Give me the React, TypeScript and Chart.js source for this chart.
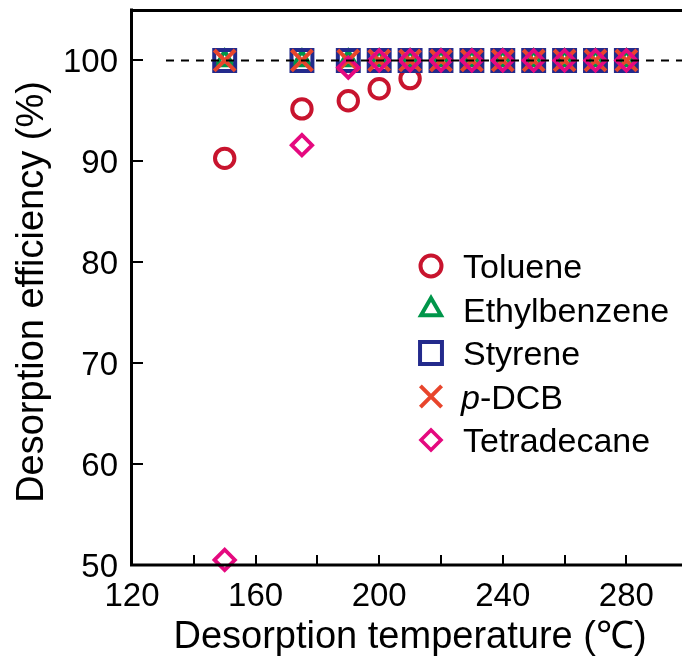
import React, { useEffect, useRef } from "react";
import { Chart, registerables } from "chart.js";
import { drawPoint } from "chart.js/helpers";

Chart.register(...registerables);

// ---- data ----
const temperatures = [150, 175, 190, 200, 210, 220, 230, 240, 250, 260, 270, 280];
const toluene = [90.3, 95.2, 96.0, 97.2, 98.2, 100, 100, 100, 100, 100, 100, 100];
const ethylbenzene = [100, 100, 100, 100, 100, 100, 100, 100, 100, 100, 100, 100];
const styrene = [100, 100, 100, 100, 100, 100, 100, 100, 100, 100, 100, 100];
const pDCB = [100, 100, 100, 100, 100, 100, 100, 100, 100, 100, 100, 100];
const tetradecane = [50.5, 91.6, 99.3, 100, 100, 100, 100, 100, 100, 100, 100, 100];

const seriesNames = ["Toluene", "Ethylbenzene", "Styrene", "p-DCB", "Tetradecane"];
const seriesValues = [toluene, ethylbenzene, styrene, pDCB, tetradecane];

const refLineX = [131, 298];
const refLineY = [100, 100];

const xMajorTicks = [120, 160, 200, 240, 280];
const xMinorTicks = [140, 180, 220, 260];
const yTicks = [50, 60, 70, 80, 90, 100];

const X_MIN = 120;
const X_MAX = 298;
const Y_MIN = 50;
const Y_MAX = 105;

// ---- styles ----
const seriesStyles = [
  { color: "#C8142E", pointStyle: "circle", radius: 9.7, borderWidth: 4, legendRadius: 10.5, legendWidth: 4 },
  { color: "#00964A", pointStyle: "triangle", radius: 9.5, borderWidth: 4, legendRadius: 11.5, legendWidth: 4 },
  { color: "#232A8C", pointStyle: "rect", radius: 14.8, borderWidth: 4, legendRadius: 15.5, legendWidth: 4 },
  { color: "#E8452C", pointStyle: "crossRot", radius: 14.8, borderWidth: 4, legendRadius: 15, legendWidth: 4 },
  { color: "#E5097F", pointStyle: "rectRot", radius: 10.2, borderWidth: 3.8, legendRadius: 10, legendWidth: 3.6 },
];
const drawOrder = [5, 4, 3, 2, 1];

const FONT = "'Liberation Sans', Arial, Helvetica, sans-serif";

const overlayPlugin = {
  id: "overlay",
  afterDraw(chart: any) {
    const ctx: CanvasRenderingContext2D = chart.ctx;
    const xs = chart.scales.x;
    const ys = chart.scales.y;
    const { left, right, top, bottom } = chart.chartArea;
    ctx.save();
    ctx.strokeStyle = "#000";
    ctx.fillStyle = "#000";
    ctx.lineCap = "butt";

    // axis frame: left, bottom, top
    ctx.lineWidth = 3;
    ctx.beginPath();
    ctx.moveTo(left - 0.5, top - 1.5);
    ctx.lineTo(left - 0.5, bottom + 1.5);
    ctx.moveTo(left - 2, bottom);
    ctx.lineTo(right, bottom);
    ctx.moveTo(left - 2, top + 0.5);
    ctx.lineTo(right, top + 0.5);
    ctx.stroke();

    // inward ticks
    ctx.lineWidth = 2;
    ctx.beginPath();
    [...xMajorTicks, ...xMinorTicks].forEach((v) => {
      if (v === X_MIN) return;
      const px = Math.round(xs.getPixelForValue(v));
      ctx.moveTo(px, bottom);
      ctx.lineTo(px, bottom - 10);
    });
    yTicks.forEach((v) => {
      if (v === Y_MIN) return;
      const py = Math.round(ys.getPixelForValue(v));
      ctx.moveTo(left, py);
      ctx.lineTo(left + 11, py);
    });
    ctx.stroke();

    // tick labels
    ctx.font = `33px ${FONT}`;
    ctx.textBaseline = "alphabetic";
    ctx.textAlign = "center";
    xMajorTicks.forEach((v) => {
      ctx.fillText(String(v), xs.getPixelForValue(v), bottom + 41);
    });
    ctx.textAlign = "right";
    yTicks.forEach((v) => {
      ctx.fillText(String(v), left - 14, ys.getPixelForValue(v) + 12);
    });

    // axis titles
    ctx.font = `38px ${FONT}`;
    ctx.textAlign = "center";
    ctx.fillText("Desorption temperature (\u2103)", 410, 648);
    ctx.save();
    ctx.translate(43, 292);
    ctx.rotate(-Math.PI / 2);
    ctx.fillText("Desorption efficiency (%)", 0, 0);
    ctx.restore();

    // legend
    const lx = 431;
    const ly0 = 266;
    const dy = 43.5;
    seriesNames.forEach((name, i) => {
      const st = seriesStyles[i];
      const cy = ly0 + i * dy;
      ctx.save();
      ctx.strokeStyle = st.color;
      ctx.fillStyle = "rgba(0,0,0,0)";
      ctx.lineWidth = st.legendWidth;
      drawPoint(ctx, { pointStyle: st.pointStyle as any, radius: st.legendRadius, rotation: 0, borderWidth: st.legendWidth } as any, lx, cy);
      ctx.restore();
      ctx.fillStyle = "#000";
      ctx.textAlign = "left";
      const by = cy + 12;
      if (name.startsWith("p-")) {
        ctx.font = `italic 34px ${FONT}`;
        ctx.fillText("p", 461, by);
        const w = ctx.measureText("p").width;
        ctx.font = `34px ${FONT}`;
        ctx.fillText(name.slice(1), 461 + w, by);
      } else {
        ctx.font = `34px ${FONT}`;
        ctx.fillText(name, 463, by);
      }
    });
    ctx.restore();
  },
};

export default function App() {
  const ref = useRef<HTMLCanvasElement>(null);
  useEffect(() => {
    const datasets: any[] = seriesNames.map((name, i) => ({
      label: name,
      data: temperatures.map((t, j) => ({ x: t, y: seriesValues[i][j] })),
      showLine: false,
      pointStyle: seriesStyles[i].pointStyle,
      pointRadius: seriesStyles[i].radius,
      pointBorderWidth: seriesStyles[i].borderWidth,
      pointBorderColor: seriesStyles[i].color,
      pointBackgroundColor: "rgba(0,0,0,0)",
      borderColor: seriesStyles[i].color,
      backgroundColor: "rgba(0,0,0,0)",
      order: drawOrder[i],
      clip: false,
    }));
    datasets.push({
      label: "ref",
      data: refLineX.map((x, j) => ({ x, y: refLineY[j] })),
      showLine: true,
      borderColor: "#000",
      borderWidth: 2,
      borderDash: [8, 7],
      pointRadius: 0,
      order: 0,
      clip: false,
    });
    const chart = new Chart(ref.current as HTMLCanvasElement, {
      type: "scatter",
      data: { datasets },
      options: {
        animation: false,
        responsive: false,
        devicePixelRatio: 1,
        layout: { autoPadding: false, padding: { left: 132, top: 10, right: 0, bottom: 93 } },
        plugins: { legend: { display: false }, tooltip: { enabled: false } },
        scales: {
          x: { type: "linear", min: X_MIN, max: X_MAX, display: false },
          y: { type: "linear", min: Y_MIN, max: Y_MAX, display: false },
        },
      },
      plugins: [overlayPlugin],
    } as any);
    return () => chart.destroy();
  }, []);
  return (
    <div style={{ position: "absolute", left: 0, top: 0, width: 682, height: 658, background: "#fff" }}>
      <canvas ref={ref} width={682} height={658} style={{ display: "block", width: 682, height: 658 }} />
    </div>
  );
}
